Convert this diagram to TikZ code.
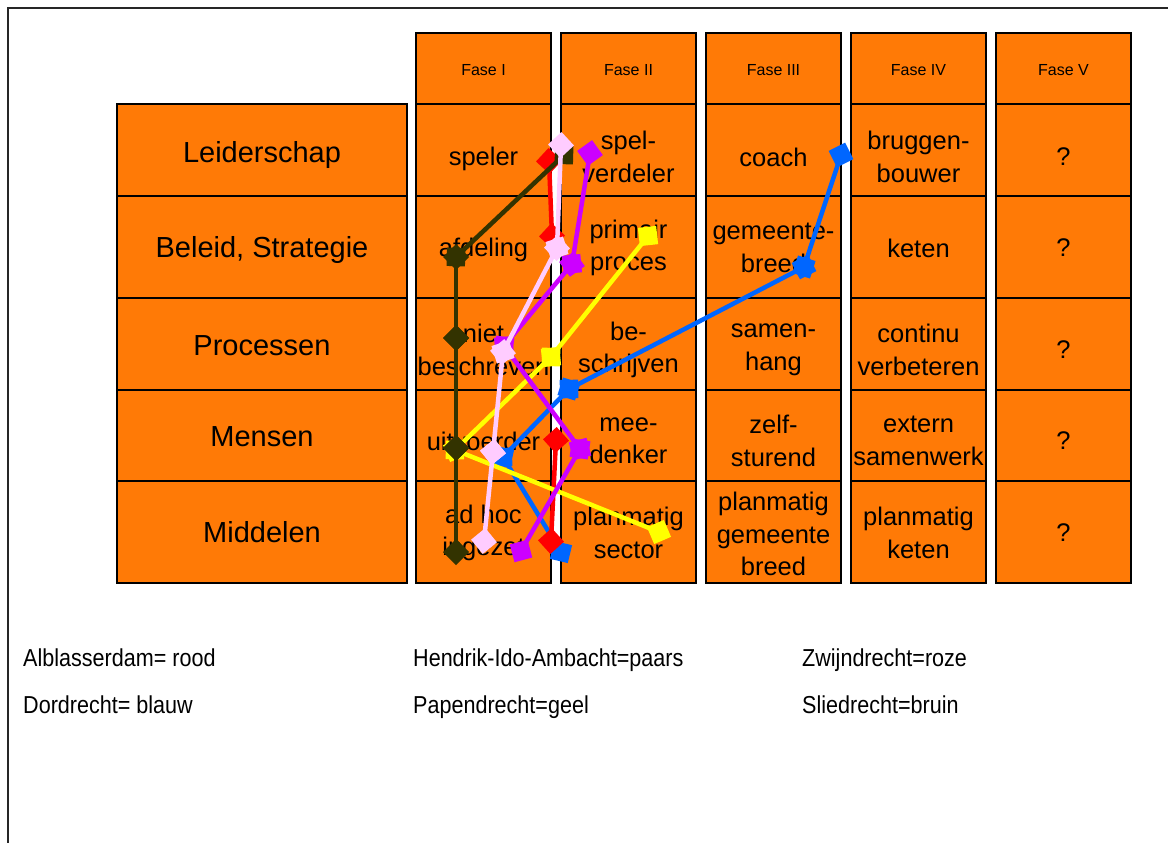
\documentclass[tikz,border=0pt]{standalone}
\usepackage{fontspec}
\setmainfont{Liberation Sans}
\newfontfamily\legfont[FakeStretch=0.88]{Liberation Sans}
\usetikzlibrary{arrows.meta}
\definecolor{cellor}{RGB}{255,122,6}
\definecolor{brn}{RGB}{51,51,0}
\definecolor{blu}{RGB}{0,102,255}
\definecolor{pur}{RGB}{204,0,255}
\definecolor{pnk}{RGB}{255,204,255}
\definecolor{yel}{RGB}{255,255,0}
\definecolor{rd}{RGB}{255,0,0}
\begin{document}
\begin{tikzpicture}[x=1pt,y=-1pt,
  cellbox/.style={draw=black, line width=1.1pt, fill=cellor, minimum width=135pt, inner sep=0pt, outer sep=0pt},
  labbox/.style={draw=black, line width=1.1pt, fill=cellor, minimum width=290pt, inner sep=0pt, outer sep=0pt},
  ctext/.style={font=\fontsize{25.5}{32.5}\selectfont, align=center, inner sep=0pt},
  htext/.style={font=\fontsize{16}{19}\selectfont, inner sep=0pt},
  ltext/.style={font=\fontsize{29}{34}\selectfont, inner sep=0pt, anchor=base},
  legtext/.style={font=\legfont\fontsize{24.5}{28}\selectfont, anchor=base west, inner sep=0pt},
  seg/.style={line width=4.5pt, {Diamond[length=26pt,width=26pt]}-{Diamond[length=26pt,width=26pt]}, shorten <=-13pt, shorten >=-13pt}
]
\useasboundingbox (0,0) rectangle (1168,843);
\fill[white] (0,0) rectangle (1168,843);
\draw[line width=2pt, draw=black!85] (8,843) -- (8,8) -- (1168,8);

% header cells
\foreach \i/\t in {0/I,1/II,2/III,3/IV,4/V}{
  \node[cellbox, minimum height=71pt] (h\i) at (483.5+145*\i, 68.5) {};
  \node[htext] (ht\i) at (483.5+145*\i, 70) {Fase \t};
}
% row label boxes
\node[labbox, minimum height=92pt] (l1) at (262, 150) {};
\node[labbox, minimum height=102pt] (l2) at (262, 247) {};
\node[labbox, minimum height=92pt] (l3) at (262, 344) {};
\node[labbox, minimum height=91pt] (l4) at (262, 435.5) {};
\node[labbox, minimum height=102pt] (l5) at (262, 532) {};
\node[ltext] (lt1) at (262, 162.5) {Leiderschap};
\node[ltext] (lt2) at (262, 257.5) {Beleid, Strategie};
\node[ltext] (lt3) at (262, 355.5) {Processen};
\node[ltext] (lt4) at (262, 446.5) {Mensen};
\node[ltext] (lt5) at (262, 542.5) {Middelen};

% phase cells
\foreach \i in {0,...,4}{
  \node[cellbox, minimum height=92pt] (c1\i) at (483.5+145*\i, 150) {};
  \node[cellbox, minimum height=102pt] (c2\i) at (483.5+145*\i, 247) {};
  \node[cellbox, minimum height=92pt] (c3\i) at (483.5+145*\i, 344) {};
  \node[cellbox, minimum height=91pt] (c4\i) at (483.5+145*\i, 435.5) {};
  \node[cellbox, minimum height=102pt] (c5\i) at (483.5+145*\i, 532) {};
}
% cell texts
\node[ctext] (t10) at (483.5,159) {speler};
\node[ctext] (t11) at (628.5,157) {spel-\\verdeler};
\node[ctext] (t12) at (773.5,157) {coach};
\node[ctext] (t13) at (918.5,157) {bruggen-\\bouwer};
\node[ctext] (t14) at (1063.5,157) {?};
\node[ctext] (t20) at (483.5,250) {afdeling};
\node[ctext] (t21) at (628.5,248) {primair\\proces};
\node[ctext] (t22) at (773.5,248) {gemeente-\\breed};
\node[ctext] (t23) at (918.5,248) {keten};
\node[ctext] (t24) at (1063.5,248) {?};
\node[ctext] (t30) at (483.5,350) {niet\\beschreven};
\node[ctext] (t31) at (628.5,350) {be-\\schrijven};
\node[ctext] (t32) at (773.5,350) {samen-\\hang};
\node[ctext] (t33) at (918.5,350) {continu\\verbeteren};
\node[ctext] (t34) at (1063.5,350) {?};
\node[ctext] (t40) at (483.5,441) {uitvoerder};
\node[ctext] (t41) at (628.5,441) {mee-\\denker};
\node[ctext] (t42) at (773.5,441) {zelf-\\sturend};
\node[ctext] (t43) at (918.5,441) {extern\\samenwerk};
\node[ctext] (t44) at (1063.5,441) {?};
\node[ctext] (t50) at (483.5,533) {ad hoc\\ingezet};
\node[ctext] (t51) at (628.5,533) {planmatig\\sector};
\node[ctext] (t52) at (773.5,534) {planmatig\\gemeente\\breed};
\node[ctext] (t53) at (918.5,533) {planmatig\\keten};
\node[ctext] (t54) at (1063.5,533) {?};

% data points
\coordinate (bl1) at (841,155);
\coordinate (bl2) at (804,267);
\coordinate (bl3) at (569,389);
\coordinate (bl4) at (503,457);
\coordinate (bl5) at (561,552);
\coordinate (rd1) at (549,161);
\coordinate (rd2) at (552,236);
\coordinate (rd4) at (556,440);
\coordinate (rd5) at (551,541);
\coordinate (ye2) at (648,236);
\coordinate (ye3) at (551,357);
\coordinate (ye4) at (455,450);
\coordinate (ye5) at (659,532);
\coordinate (br1) at (564,155);
\coordinate (br2) at (456,257);
\coordinate (br3) at (456,338);
\coordinate (br4) at (456,448);
\coordinate (br5) at (456,552);
\coordinate (pu1) at (590,153);
\coordinate (pu2) at (572,264);
\coordinate (pu3) at (504,346);
\coordinate (pu4) at (580,449);
\coordinate (pu5) at (521,551);
\coordinate (pk1) at (561,145);
\coordinate (pk2) at (557,248);
\coordinate (pk3) at (503,352);
\coordinate (pk4) at (493,452);
\coordinate (pk5) at (484,541);

% series (back to front)
\draw[seg, blu] (bl1) -- (bl2);
\draw[seg, blu] (bl2) -- (bl3);
\draw[seg, blu] (bl3) -- (bl4);
\draw[seg, blu] (bl4) -- (bl5);
\draw[seg, rd] (rd1) -- (rd2);
\draw[seg, rd] (rd4) -- (rd5);
\draw[seg, yel] (ye2) -- (ye3);
\draw[seg, yel] (ye3) -- (ye4);
\draw[seg, yel] (ye4) -- (ye5);
\draw[seg, brn] (br1) -- (br2);
\draw[seg, brn] (br2) -- (br3);
\draw[seg, brn] (br3) -- (br4);
\draw[seg, brn] (br4) -- (br5);
\draw[seg, pur] (pu1) -- (pu2);
\draw[seg, pur] (pu2) -- (pu3);
\draw[seg, pur] (pu3) -- (pu4);
\draw[seg, pur] (pu4) -- (pu5);
\draw[seg, pnk] (pk1) -- (pk2);
\draw[seg, pnk] (pk2) -- (pk3);
\draw[seg, pnk] (pk3) -- (pk4);
\draw[seg, pnk] (pk4) -- (pk5);

% legend
\node[legtext] (g1) at (23,666) {Alblasserdam= rood};
\node[legtext] (g2) at (413,666) {Hendrik-Ido-Ambacht=paars};
\node[legtext] (g3) at (802,666) {Zwijndrecht=roze};
\node[legtext] (g4) at (23,713) {Dordrecht= blauw};
\node[legtext] (g5) at (413,713) {Papendrecht=geel};
\node[legtext] (g6) at (802,713) {Sliedrecht=bruin};
\end{tikzpicture}
\end{document}
